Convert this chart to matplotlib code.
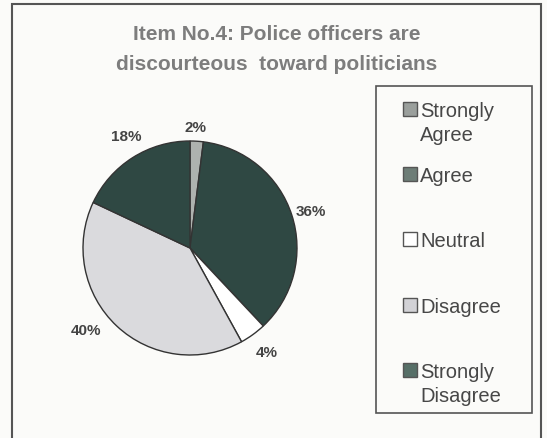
import numpy as np
import matplotlib
matplotlib.use('Agg')
import matplotlib.pyplot as plt
from matplotlib.patches import Rectangle

# Data
categories = ['Strongly Agree', 'Agree', 'Neutral', 'Disagree', 'Strongly Disagree']
legend_labels = ['Strongly\nAgree', 'Agree', 'Neutral', 'Disagree', 'Strongly\nDisagree']
percent = [2, 36, 4, 40, 18]
colors = ['#aeb2af', '#2f4843', '#ffffff', '#dadadd', '#2f4843']
icon_colors = ['#9a9f9c', '#6d7d77', '#ffffff', '#d2d2d6', '#566f67']

title_lines = ['Item No.4: Police officers are', 'discourteous  toward politicians']

W, H = 547, 439
plt.rcParams['font.family'] = ['Liberation Sans', 'DejaVu Sans']

fig = plt.figure(figsize=(W / 100, H / 100), dpi=100)
fig.patch.set_facecolor('#fbfbf9')


def fx(x):
    return x / W


def fy(y):
    return 1 - y / H


# outer frame
fig.add_artist(Rectangle((fx(12), fy(445)), fx(541) - fx(12), fy(5) - fy(445),
                         transform=fig.transFigure, fill=False,
                         edgecolor='#555555', linewidth=1.5))

# title, two lines
for line, base in zip(title_lines, [40, 70]):
    fig.text(fx(277), fy(base), line, ha='center', va='baseline', fontsize=15,
             fontweight='bold', color='#7d7d7d')

# pie
cx, cy, r = 190, 249, 107
ax = fig.add_axes([fx(cx - r), fy(cy + r), 2 * r / W, 2 * r / H])
wedges, _ = ax.pie(percent, colors=colors, startangle=90, counterclock=False,
                   wedgeprops=dict(edgecolor='#333333', linewidth=1.0))
ax.set_xlim(-1, 1)
ax.set_ylim(-1, 1)
ax.axis('off')

# percent labels (distance and angle tweak per slice)
label_dist = [1.13, 1.18, 1.21, 1.24, 1.21]
label_shift = [1, -1, 0.5, -8.5, -2.7]
for w, p, d, s in zip(wedges, percent, label_dist, label_shift):
    ang = np.deg2rad((w.theta1 + w.theta2) / 2 + s)
    ax.text(d * np.cos(ang), d * np.sin(ang), f'{p}%', ha='center', va='center',
            fontsize=11, fontweight='bold', color='#444444', clip_on=False)

# legend box
fig.add_artist(Rectangle((fx(376), fy(414)), fx(532) - fx(376), fy(87) - fy(414),
                         transform=fig.transFigure, fill=False,
                         edgecolor='#555555', linewidth=1.2))
entry_base = [117, 182, 247, 313, 378]
for lab, c, y in zip(legend_labels, icon_colors, entry_base):
    fig.add_artist(Rectangle((fx(403), fy(y)), 14 / W, 14 / H,
                             transform=fig.transFigure, facecolor=c,
                             edgecolor='#555555', linewidth=1.0))
    for k, part in enumerate(lab.split('\n')):
        fig.text(fx(420), fy(y + 24 * k), part, ha='left', va='baseline',
                 fontsize=14.5, color='#474747')

fig.savefig('out.png', dpi=100, facecolor=fig.get_facecolor())
